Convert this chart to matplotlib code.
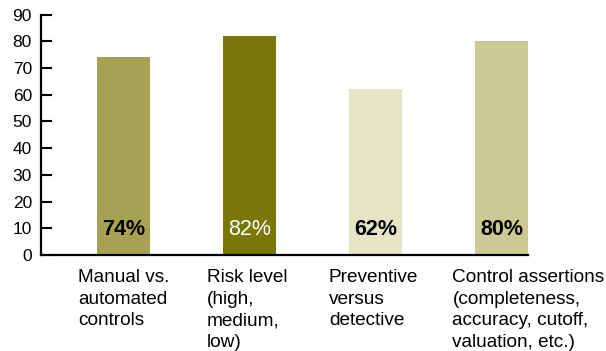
import matplotlib
matplotlib.use("Agg")
import matplotlib.pyplot as plt

plt.rcParams["font.family"] = ["Liberation Sans", "DejaVu Sans"]

# Share of respondents per control attribute (%)
categories = [
    "Manual vs.\nautomated\ncontrols",
    "Risk level\n(high,\nmedium,\nlow)",
    "Preventive\nversus\ndetective",
    "Control assertions\n(completeness,\naccuracy, cutoff,\nvaluation, etc.)",
]
values = [74, 82, 62, 80]
bar_colors = ["#A7A153", "#7A7608", "#E4E4C7", "#CDC994"]
label_colors = ["black", "white", "black", "black"]
label_weights = ["bold", "normal", "bold", "bold"]
yticks = [0, 10, 20, 30, 40, 50, 60, 70, 80, 90]

# left edge of each category label relative to its bar centre (in bar units)
label_shift = [-0.36, -0.34, -0.37, -0.39]

W, H = 606, 351
fig = plt.figure(figsize=(W / 100, H / 100), dpi=100)
ax = fig.add_axes([41 / W, (H - 255) / H, (528 - 41) / W, (255 - 14.7) / H])

x = range(len(values))
ax.bar(x, values, width=0.42, color=bar_colors, zorder=2)

for i, v in enumerate(values):
    ax.text(i, 9.5, f"{v}%", ha="center", va="center", fontsize=15.5,
            color=label_colors[i], fontweight=label_weights[i], zorder=3)

for i, cat in enumerate(categories):
    ax.annotate(cat, xy=(i + label_shift[i], 0), xycoords=("data", "axes fraction"),
                xytext=(0, -14), textcoords="offset pixels",
                ha="left", va="top", fontsize=13.7, linespacing=1.36,
                multialignment="left")

ax.set_xlim(-0.655, 3.21)
ax.set_ylim(0, 90)
ax.set_yticks(yticks)
ax.set_xticks([])

for side in ["top", "right"]:
    ax.spines[side].set_visible(False)
for side in ["left", "bottom"]:
    ax.spines[side].set_linewidth(1.6)

ax.tick_params(axis="y", direction="in", length=8, width=1.5,
               labelsize=12.5, pad=6.5)

fig.savefig("out.png", dpi=100)
